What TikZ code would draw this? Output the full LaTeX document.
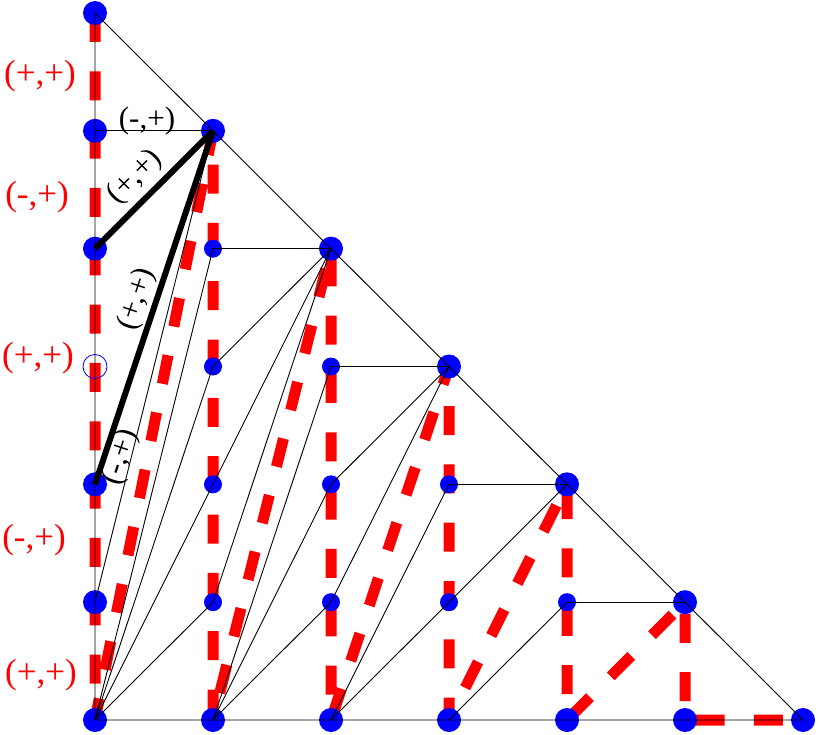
\documentclass[tikz,border=0pt]{standalone}
\usepackage{fontspec}
\setmainfont{Liberation Serif}
\begin{document}
\begin{tikzpicture}[x=1pt,y=-1pt,
  thinedge/.style={black, line width=0.9pt},
  thickedge/.style={black, line width=6pt},
  reddash/.style={red, line width=11pt, dash pattern=on 29pt off 29.33pt, line join=bevel},
  bignode/.style={blue},
  redlab/.style={text=red, font=\fontsize{35}{40}\selectfont, inner sep=0pt},
  blacklab/.style={text=black, font=\fontsize{31}{36}\selectfont, inner sep=0pt}]
\useasboundingbox (0,0) rectangle (818,735);
% grid points
\foreach \i in {0,...,6} {
  \pgfmathtruncatemacro{\jmax}{6-\i}
  \foreach \j in {0,...,\jmax} {
    \coordinate (n-\i-\j) at ({95+118*\i},{720-117.833*\j});
  }
}
% red dashed zigzag path
\draw[reddash] (n-0-6) -- (n-0-0) -- (n-1-5) -- (n-1-0) -- (n-2-4) -- (n-2-0)
  -- (n-3-3) -- (n-3-0) -- (n-4-2) -- (n-4-0) -- (n-5-1) -- (n-5-0) -- (n-6-0);
% nodes
\foreach \i in {0,...,6} {
  \pgfmathtruncatemacro{\jmax}{6-\i}
  \foreach \j in {0,...,\jmax} {
    \pgfmathtruncatemacro{\isbig}{(\i==0 || \j==0 || \j==\jmax) ? 1 : 0}
    \pgfmathtruncatemacro{\ishollow}{(\i==0 && \j==3) ? 1 : 0}
    \ifnum\ishollow=1
      \draw[blue, line width=0.8pt] (n-\i-\j) circle[radius=12pt];
    \else
      \ifnum\isbig=1
        \fill[bignode] (n-\i-\j) circle[radius=12pt];
      \else
        \fill[bignode] (n-\i-\j) circle[radius=9pt];
      \fi
    \fi
  }
}
% thin edges
\draw[thinedge] (n-0-0) -- (n-0-6) -- (n-6-0) -- (n-0-0);
\foreach \i in {0,...,4} {
  \pgfmathtruncatemacro{\top}{5-\i}
  \pgfmathtruncatemacro{\ii}{\i+1}
  \draw[thinedge] (n-\i-\top) -- (n-\ii-\top);
  \foreach \j in {1,...,\top} {
    \pgfmathtruncatemacro{\skip}{(\i==0 && \j==3) ? 1 : 0}
    \ifnum\skip=0
      \draw[thinedge] (n-\ii-\top) -- (n-\i-\j);
    \fi
  }
  \ifnum\top>1
    \pgfmathtruncatemacro{\tm}{\top-1}
    \foreach \j in {1,...,\tm} {
      \draw[thinedge] (n-\i-0) -- (n-\ii-\j);
    }
  \fi
}
% thick black edges
\draw[thickedge] (n-0-4) -- (n-1-5);
\draw[thickedge] (n-0-2) -- (n-1-5);
% red labels
\node[redlab] (r1) at (40,76) {(+,+)};
\node[redlab] (r2) at (37,197) {(-,+)};
\node[redlab] (r3) at (38,358) {(+,+)};
\node[redlab] (r4) at (34,540) {(-,+)};
\node[redlab] (r5) at (41,675) {(+,+)};
% black labels
\node[blacklab] (b1) at (147,121) {(-,+)};
\node[blacklab, rotate=45] (b2) at (135,177) {(+,+)};
\node[blacklab, rotate=71.57] (b3) at (137,299) {(+,+)};
\node[blacklab, rotate=71.57] (b4) at (121,457) {(-,+)};
\end{tikzpicture}
\end{document}
